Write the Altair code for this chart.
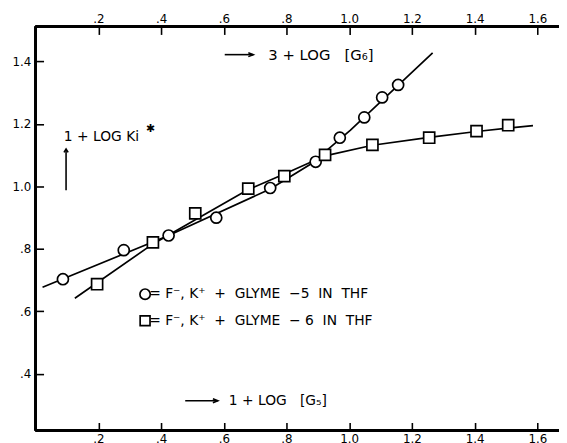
import altair as alt
import pandas as pd

# ---------------- data ----------------
# circles: 1 + log[G5] (bottom axis) vs 1 + log Ki*
g5_x = [0.087, 0.281, 0.424, 0.576, 0.748, 0.893, 0.970, 1.048, 1.105, 1.156]
g5_y = [0.703, 0.796, 0.843, 0.900, 0.995, 1.079, 1.156, 1.221, 1.285, 1.325]
# squares: 3 + log[G6] (top axis) vs 1 + log Ki*
g6_x = [0.196, 0.374, 0.509, 0.678, 0.793, 0.923, 1.074, 1.255, 1.406, 1.507]
g6_y = [0.687, 0.821, 0.914, 0.993, 1.033, 1.101, 1.133, 1.156, 1.177, 1.196]
# hand-drawn curves through the points
g5_curve_x = [0.022, 0.424, 0.748, 0.875, 1.004, 1.266]
g5_curve_y = [0.677, 0.843, 0.992, 1.070, 1.180, 1.428]
g6_curve_x = [0.125, 0.374, 0.678, 0.793, 0.923, 1.074, 1.255, 1.406, 1.586]
g6_curve_y = [0.642, 0.816, 0.990, 1.040, 1.098, 1.132, 1.157, 1.176, 1.195]

x_tick_values = [0.2, 0.4, 0.6, 0.8, 1.0, 1.2, 1.4, 1.6]
x_tick_labels = [".2", ".4", ".6", ".8", "1.0", "1.2", "1.4", "1.6"]
y_tick_values = [0.4, 0.6, 0.8, 1.0, 1.2, 1.4]
y_tick_labels = [".4", ".6", ".8", "1.0", "1.2", "1.4"]

S = "\u00a0"  # non-collapsing space
legend_labels = [f"={S}F\u207b,{S}K\u207a{S}{S}+{S}{S}GLYME{S}{S}\u22125{S}{S}IN{S}{S}THF",
                 f"={S}F\u207b,{S}K\u207a{S}{S}+{S}{S}GLYME{S}{S}\u2212{S}6{S}{S}IN{S}{S}THF"]
top_title = f"3{S}+{S}LOG{S}{S}{S}[G\u2086]"
bottom_title = f"1{S}+{S}LOG{S}{S}{S}[G\u2085]"
y_title = f"1{S}+{S}LOG{S}Ki"

# ---------------- layout ----------------
W, H = 530, 409
X_DOMAIN = [0, 1.669]
Y_DOMAIN = [0.219, 1.512]
FONT = "DejaVu Sans"
INK = "black"

xs = alt.Scale(domain=X_DOMAIN, nice=False, zero=False)
ys = alt.Scale(domain=Y_DOMAIN, nice=False, zero=False)


def label_expr(values, labels):
    expr = "''"
    for v, l in reversed(list(zip(values, labels))):
        expr = f"abs(datum.value - {v}) < 1e-6 ? '{l}' : ({expr})"
    return expr


def tick_axis(orient, values, labels, pad):
    return alt.Axis(orient=orient, values=values, labelExpr=label_expr(values, labels),
                    offset=-8, domain=False, tickSize=8, tickWidth=1.6, tickColor=INK,
                    labelPadding=pad, labelFont=FONT, labelFontSize=12, labelColor=INK,
                    grid=False, title=None)


bottom_axis = tick_axis("bottom", x_tick_values, x_tick_labels, 3)
top_axis = tick_axis("top", x_tick_values, x_tick_labels, 1)
left_axis = tick_axis("left", y_tick_values, y_tick_labels, 5)


def X(field="x", axis=None):
    return alt.X(f"{field}:Q", scale=xs, axis=axis)


def Y(field="y", axis=None):
    return alt.Y(f"{field}:Q", scale=ys, axis=axis)


g5_pts = pd.DataFrame({"x": g5_x, "y": g5_y})
g6_pts = pd.DataFrame({"x": g6_x, "y": g6_y})
g5_curve = pd.DataFrame({"x": g5_curve_x, "y": g5_curve_y, "i": range(len(g5_curve_x))})
g6_curve = pd.DataFrame({"x": g6_curve_x, "y": g6_curve_y, "i": range(len(g6_curve_x))})

line5 = alt.Chart(g5_curve).mark_line(color=INK, strokeWidth=1.7).encode(
    x=X(axis=bottom_axis), y=Y(axis=left_axis), order="i:Q")
line6 = alt.Chart(g6_curve).mark_line(color=INK, strokeWidth=1.7).encode(
    x=X(axis=top_axis), y=Y(), order="i:Q")

pt_style = dict(filled=True, fill="white", stroke=INK, strokeWidth=1.7, opacity=1)
circ = alt.Chart(g5_pts).mark_point(shape="circle", size=125, **pt_style).encode(x=X(), y=Y())
sq = alt.Chart(g6_pts).mark_point(shape="square", size=125, **pt_style).encode(x=X(), y=Y())

# legend (drawn inside the plot as in the original)
leg_sym = pd.DataFrame({"x": [0.349, 0.349], "y": [0.655, 0.570]})
leg_txt = pd.DataFrame({"x": [0.362, 0.362], "y": [0.655, 0.570], "t": legend_labels})
leg_c = alt.Chart(leg_sym.iloc[[0]]).mark_point(shape="circle", size=110, **pt_style).encode(x=X(), y=Y())
leg_s = alt.Chart(leg_sym.iloc[[1]]).mark_point(shape="square", size=100, **pt_style).encode(x=X(), y=Y())
leg_t = alt.Chart(leg_txt).mark_text(align="left", baseline="middle", font=FONT, fontSize=14,
                                     color=INK).encode(x=X(), y=Y(), text="t:N")

# axis-name annotations with arrows
notes = pd.DataFrame({
    "x": [0.742, 0.616, 0.090],
    "y": [1.422, 0.314, 1.158],
    "t": [top_title, bottom_title, y_title],
    "s": [15, 14, 14],
})
note_t = alt.Chart(notes).mark_text(align="left", baseline="middle", font=FONT,
                                    color=INK).encode(
    x=X(), y=Y(), text="t:N", size=alt.Size("s:Q", scale=None, legend=None))
star = alt.Chart(pd.DataFrame({"x": [0.366], "y": [1.185], "t": ["\u2731"]})).mark_text(
    align="center", baseline="middle", font=FONT, fontSize=11, color=INK).encode(
    x=X(), y=Y(), text="t:N")

h_arrows = pd.DataFrame({"x": [0.603, 0.477], "x2": [0.694, 0.581], "y": [1.422, 0.314]})
h_shaft = alt.Chart(h_arrows).mark_rule(color=INK, strokeWidth=1.6).encode(
    x=X(), x2="x2:Q", y=Y())
h_head = alt.Chart(h_arrows).mark_point(shape="M -1 -0.4 L 0 0 L -1 0.4", size=100, filled=False,
                                        stroke=INK, strokeWidth=1.6, opacity=1).encode(
    x=X("x2"), y=Y())
v_arrow = pd.DataFrame({"x": [0.097], "y": [0.988], "y2": [1.120]})
v_shaft = alt.Chart(v_arrow).mark_rule(color=INK, strokeWidth=1.6).encode(
    x=X(), y=Y(), y2="y2:Q")
v_head = alt.Chart(v_arrow).mark_point(shape="M -0.6 1 L 0 0 L 0.6 1", size=49, filled=False,
                                       stroke=INK, strokeWidth=1.6, opacity=1).encode(
    x=X(), y=Y("y2"))

# frame lines (top, bottom, left)
frame_top = alt.Chart(g5_pts).mark_rule(color=INK, strokeWidth=2).encode(
    x=alt.value(0), x2=alt.value(W), y=alt.value(0))
frame_bot = alt.Chart(g5_pts).mark_rule(color=INK, strokeWidth=2).encode(
    x=alt.value(0), x2=alt.value(W), y=alt.value(H))
frame_left = alt.Chart(g5_pts).mark_rule(color=INK, strokeWidth=2).encode(
    x=alt.value(0), y=alt.value(0), y2=alt.value(H))

chart = alt.layer(
    line5, line6, circ, sq, leg_c, leg_s, leg_t, note_t, star,
    h_shaft, h_head, v_shaft, v_head, frame_top, frame_bot, frame_left,
).resolve_axis(x="independent", y="independent").properties(
    width=W, height=H, autosize="none",
    padding={"left": 28, "top": 16, "right": 0, "bottom": 10},
).configure_view(stroke=None).configure(background="white")

chart.save("out.html", embed_options={"renderer": "svg", "actions": False})
